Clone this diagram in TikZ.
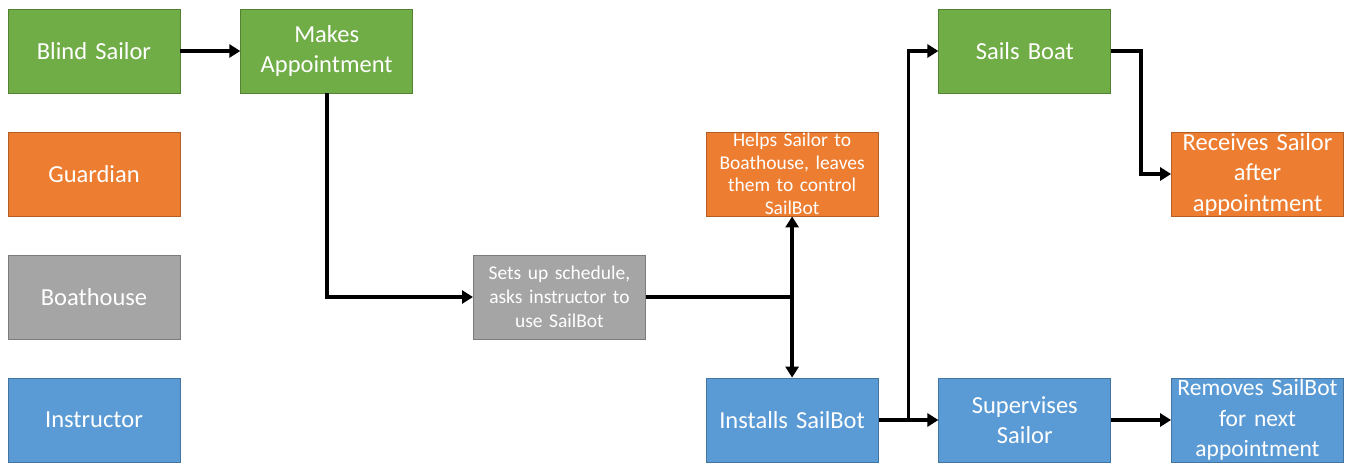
\documentclass[tikz,border=0pt]{standalone}
\usepackage{fontspec}
\setmainfont{Carlito}
\usepackage{tikz}
\usetikzlibrary{positioning, arrows.meta, calc}
\definecolor{sailgreen}{HTML}{70AD47}
\definecolor{sailorange}{HTML}{ED7D31}
\definecolor{sailgray}{HTML}{A5A5A5}
\definecolor{sailblue}{HTML}{5B9BD5}
\tikzstyle{actor} = [rectangle, minimum width=172pt, minimum height=84pt, text width=168pt, inner xsep=2pt, inner ysep=0pt, align=center, text=white, font=\fontsize{24.5}{30.5}\selectfont, line width=0.8pt]
\tikzstyle{small} = [font=\fontsize{19.5}{24}\selectfont]
\tikzstyle{green} = [actor, fill=sailgreen, draw=sailgreen!75!black]
\tikzstyle{orange} = [actor, fill=sailorange, draw=sailorange!75!black]
\tikzstyle{gray} = [actor, fill=sailgray, draw=sailgray!75!black]
\tikzstyle{blue} = [actor, fill=sailblue, draw=sailblue!75!black]
\tikzstyle{arrow} = [line width=3.8pt, -{Triangle[length=11pt,width=13pt]}]
\tikzstyle{line} = [line width=3.8pt]

\begin{document}
\begin{tikzpicture}[node distance=123pt and 232.7pt, on grid]
	\node (sailor) [green] at (94pt,-51pt) {Blind Sailor};
	\useasboundingbox (0,0) rectangle (1348pt,-464pt);
	\node (guardian) [orange, below=of sailor] {Guardian};
	\node (boathouse) [gray, below=of guardian] {Boathouse};
	\node (instructor) [blue, below=of boathouse] {Instructor};
	
	\node (appoint) [green, right=of sailor] {Makes\\Appointment};
	\node (schedule) [gray, small, below right=246pt and 232.7pt of appoint] {Sets up schedule,\\asks instructor to\\use SailBot};
	
	\node (helps) [orange, small, above right=of schedule, font=\fontsize{19.5}{22.5}\selectfont] {Helps Sailor to\\Boathouse, leaves\\them to control\\SailBot};
	\node (install) [blue, below right=of schedule] {Installs SailBot};
	
	\node (sails) [green, above right=369pt and 232.7pt of install] {Sails Boat};
	\node (supervise) [blue, right=of install] {Supervises\\Sailor};
	
	\node (receives) [orange, below right=of sails] {Receives Sailor\\after\\appointment};
	\node (removes) [blue, right=of supervise, font=\fontsize{23.5}{30.5}\selectfont] {Removes SailBot\\for next\\appointment};
	
	\coordinate (split) at (helps.south |- schedule.east);
	\coordinate (fork) at ($(install.east)!0.5!(supervise.west)$);
	\coordinate (turn) at ($(sails.east)!0.5!(receives.west |- sails.east)$);
	
	\draw [arrow] (sailor) -- (appoint);
	\draw [arrow] (appoint.south) |- (schedule.west);
	
	\draw [line] (schedule.east) -- (split);
	\draw [arrow] (split) -- (helps.south);
	\draw [arrow] (split) -- (install.north);
	
	\draw [arrow] (install) -- (supervise);
	\draw [arrow] (fork) |- (sails.west);
	\draw [arrow] (sails.east) -- (turn) |- (receives.west);
	\draw [arrow] (supervise) -- (removes);
	
\end{tikzpicture}
\end{document}
